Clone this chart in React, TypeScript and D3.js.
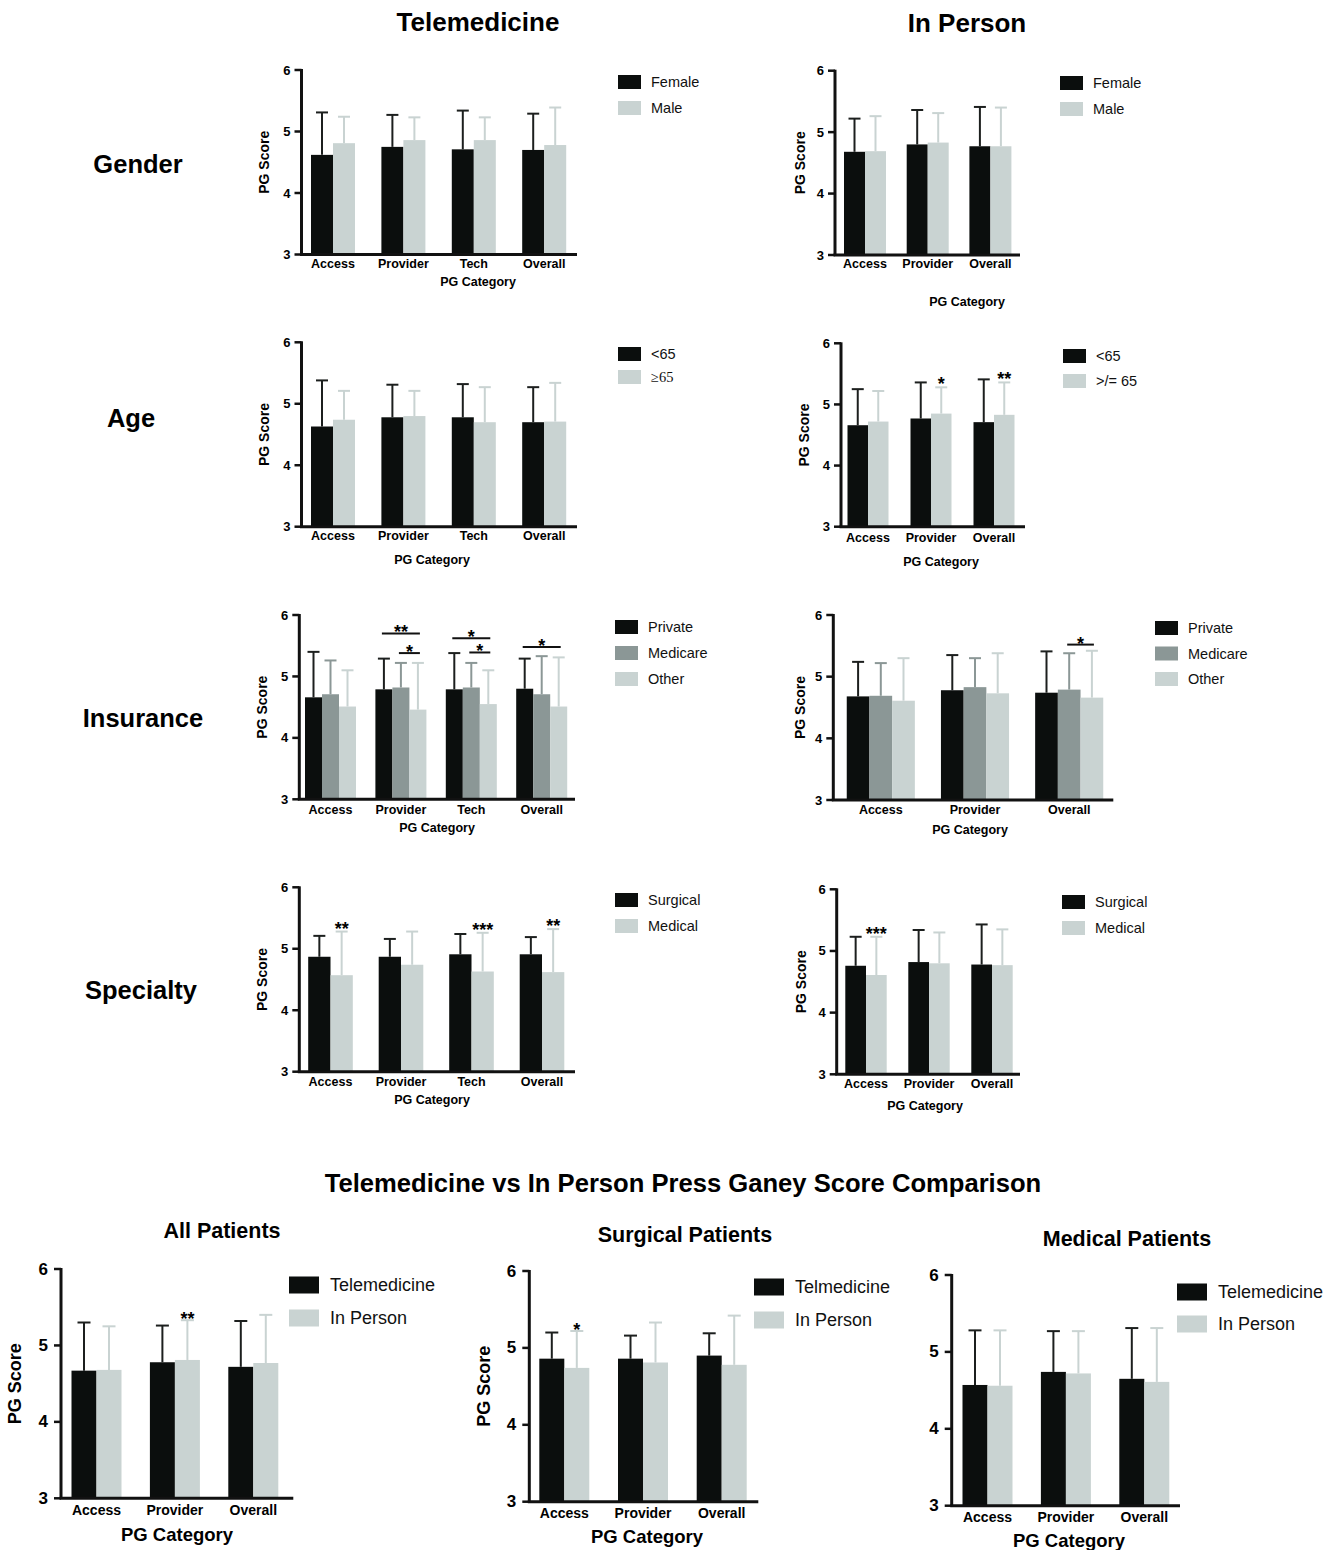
import React from 'react';
import * as d3 from 'd3';

const FONT = 'Arial, "Liberation Sans", Helvetica, sans-serif';
const BLACK = '#0b0e0d';
const MID = '#8b9796';
const LIGHT = '#c9d3d2';

// categories
const cats4 = ['Access', 'Provider', 'Tech', 'Overall'];
const cats3 = ['Access', 'Provider', 'Overall'];

// gender
const genderSeries = ['Female', 'Male'];
const teleGenderMean = [[4.62, 4.75, 4.71, 4.70], [4.81, 4.86, 4.86, 4.78]];
const teleGenderUpper = [[5.31, 5.27, 5.34, 5.29], [5.24, 5.23, 5.23, 5.39]];
const ipGenderMean = [[4.68, 4.80, 4.77], [4.69, 4.83, 4.77]];
const ipGenderUpper = [[5.22, 5.36, 5.41], [5.26, 5.31, 5.40]];

// age
const teleAgeSeries = ['<65', '≥65'];
const ipAgeSeries = ['<65', '>/= 65'];
const teleAgeMean = [[4.63, 4.78, 4.78, 4.70], [4.74, 4.80, 4.70, 4.71]];
const teleAgeUpper = [[5.38, 5.31, 5.32, 5.27], [5.21, 5.21, 5.27, 5.34]];
const ipAgeMean = [[4.66, 4.77, 4.71], [4.72, 4.85, 4.83]];
const ipAgeUpper = [[5.25, 5.36, 5.41], [5.22, 5.28, 5.36]];
const ipAgeStars = [{ cat: 1, s: 1, label: '*' }, { cat: 2, s: 1, label: '**' }];

// insurance
const insSeries = ['Private', 'Medicare', 'Other'];
const teleInsMean = [[4.66, 4.79, 4.79, 4.80], [4.71, 4.82, 4.82, 4.71], [4.51, 4.46, 4.55, 4.51]];
const teleInsUpper = [[5.40, 5.29, 5.38, 5.29], [5.26, 5.22, 5.22, 5.33], [5.10, 5.22, 5.10, 5.31]];
const teleInsBrackets = [
  { cat: 1, from: 0, to: 2, level: 5.70, label: '**' },
  { cat: 1, from: 1, to: 2, level: 5.38, label: '*' },
  { cat: 2, from: 0, to: 2, level: 5.62, label: '*' },
  { cat: 2, from: 1, to: 2, level: 5.39, label: '*' },
  { cat: 3, from: 0, to: 2, level: 5.48, label: '*' },
];
const ipInsMean = [[4.68, 4.78, 4.74], [4.69, 4.83, 4.79], [4.61, 4.73, 4.66]];
const ipInsUpper = [[5.24, 5.35, 5.41], [5.22, 5.30, 5.38], [5.30, 5.38, 5.42]];
const ipInsBrackets = [{ cat: 2, from: 1, to: 2, level: 5.52, label: '*' }];

// specialty
const specSeries = ['Surgical', 'Medical'];
const teleSpecMean = [[4.87, 4.87, 4.91, 4.91], [4.57, 4.74, 4.63, 4.62]];
const teleSpecUpper = [[5.21, 5.16, 5.24, 5.19], [5.28, 5.28, 5.26, 5.32]];
const teleSpecStars = [{ cat: 0, s: 1, label: '**' }, { cat: 2, s: 1, label: '***' }, { cat: 3, s: 1, label: '**' }];
const ipSpecMean = [[4.76, 4.82, 4.78], [4.61, 4.80, 4.77]];
const ipSpecUpper = [[5.23, 5.34, 5.43], [5.23, 5.30, 5.35]];
const ipSpecStars = [{ cat: 0, s: 1, label: '***' }];

// telemedicine vs in person
const allSeries = ['Telemedicine', 'In Person'];
const surgSeries = ['Telmedicine', 'In Person'];
const allMean = [[4.67, 4.78, 4.72], [4.68, 4.81, 4.77]];
const allUpper = [[5.30, 5.26, 5.32], [5.25, 5.33, 5.40]];
const allStars = [{ cat: 1, s: 1, label: '**' }];
const surgMean = [[4.86, 4.86, 4.90], [4.74, 4.81, 4.78]];
const surgUpper = [[5.20, 5.16, 5.19], [5.22, 5.33, 5.42]];
const surgStars = [{ cat: 0, s: 1, label: '*' }];
const medMean = [[4.57, 4.74, 4.65], [4.56, 4.72, 4.61]];
const medUpper = [[5.28, 5.27, 5.31], [5.28, 5.27, 5.31]];

const yTicks = [3, 4, 5, 6];

const small = { tickFs: 13, tickGap: 11, catFs: 12.5, xTitleFs: 12.5, yLabFs: 14, legFs: 14.5, sw: 23, sh: 14, legDx: 33, starFs: 18, starDy: 3, capW: 12 };
const big = { tickFs: 17, tickGap: 13, catFs: 14, xTitleFs: 18.5, yLabFs: 18, legFs: 18, sw: 30, sh: 17, legDx: 41, starFs: 18, starDy: 5, capW: 13 };

function Panel({ cats, series, mean, upper, lay, sty, yLabX, catY, xTitle, legend, stars = [], brackets = [], title, legendFonts = [] }) {
  const colors = series.length === 3 ? [BLACK, MID, LIGHT] : [BLACK, LIGHT];
  const n = cats.length;
  const p = 1 - (series.length * lay.barW) / lay.step;
  const start = lay.c0 - lay.step / 2;
  const x0 = d3.scaleBand().domain(cats).range([start, start + n * lay.step]).paddingInner(p).paddingOuter(p / 2);
  const x1 = d3.scaleBand().domain(series).range([0, x0.bandwidth()]);
  const y = d3.scaleLinear().domain([3, 6]).range([lay.yBot, lay.yTop]);
  const cx = (ci, si) => x0(cats[ci]) + x1(series[si]) + x1.bandwidth() / 2;
  const midY = (lay.yTop + lay.yBot) / 2;

  return (
    <g fontFamily={FONT}>
      {title && (
        <text x={title.x} y={title.y} textAnchor="middle" dominantBaseline="central" fontWeight="bold" fontSize={21.5}>{title.text}</text>
      )}
      {series.map((s, si) =>
        cats.map((c, ci) => {
          const xb = x0(c) + x1(s);
          const ym = y(mean[si][ci]);
          const yu = y(upper[si][ci]);
          const xc = xb + x1.bandwidth() / 2;
          const ec = si === 0 ? '#1c1f1e' : colors[si];
          return (
            <g key={s + c}>
              <line x1={xc} x2={xc} y1={ym} y2={yu} stroke={ec} strokeWidth={2} />
              <line x1={xc - sty.capW / 2} x2={xc + sty.capW / 2} y1={yu} y2={yu} stroke={ec} strokeWidth={2} />
              <rect x={xb} y={ym} width={x1.bandwidth()} height={lay.yBot - ym} fill={colors[si]} />
            </g>
          );
        })
      )}
      {/* axes */}
      <line x1={lay.ax} x2={lay.ax} y1={lay.yTop - 1} y2={lay.yBot} stroke="#111" strokeWidth={3} />
      <line x1={lay.ax - 1.5} x2={lay.axR} y1={lay.yBot} y2={lay.yBot} stroke="#111" strokeWidth={3} />
      {yTicks.map((t) => (
        <g key={t}>
          <line x1={lay.ax - 7} x2={lay.ax} y1={y(t)} y2={y(t)} stroke="#111" strokeWidth={2.5} />
          <text x={lay.ax - sty.tickGap} y={y(t)} textAnchor="end" dominantBaseline="central" fontWeight="bold" fontSize={sty.tickFs}>{t}</text>
        </g>
      ))}
      {cats.map((c) => (
        <text key={c} x={x0(c) + x0.bandwidth() / 2} y={catY} textAnchor="middle" dominantBaseline="central" fontWeight="bold" fontSize={sty.catFs}>{c}</text>
      ))}
      <text x={xTitle.x} y={xTitle.y} textAnchor="middle" dominantBaseline="central" fontWeight="bold" fontSize={sty.xTitleFs}>PG Category</text>
      {yLabX != null && (
        <text transform={`translate(${yLabX},${midY}) rotate(-90)`} textAnchor="middle" dominantBaseline="central" fontWeight="bold" fontSize={sty.yLabFs}>PG Score</text>
      )}
      {/* legend */}
      {series.map((s, si) => {
        const ly = legend.y0 + si * legend.dy;
        return (
          <g key={s}>
            <rect x={legend.x} y={ly - sty.sh / 2} width={sty.sw} height={sty.sh} fill={colors[si]} />
            <text x={legend.x + sty.legDx} y={ly} dominantBaseline="central" fontSize={sty.legFs} fontFamily={legendFonts[si] || FONT} fill="#111">{s}</text>
          </g>
        );
      })}
      {stars.map((st, i) => (
        <text key={'s' + i} x={cx(st.cat, st.s)} y={y(upper[st.s][st.cat]) + sty.starDy} textAnchor="middle" fontWeight="bold" fontSize={sty.starFs}>{st.label}</text>
      ))}
      {brackets.map((b, i) => {
        const xa = cx(b.cat, b.from) - 2;
        const xb = cx(b.cat, b.to) + 2;
        const yl = y(b.level);
        return (
          <g key={'b' + i}>
            <line x1={xa} x2={xb} y1={yl} y2={yl} stroke="#111" strokeWidth={2} />
            <text x={(xa + xb) / 2} y={yl + 5} textAnchor="middle" fontWeight="bold" fontSize={18}>{b.label}</text>
          </g>
        );
      })}
    </g>
  );
}

export default function App() {
  return (
    <svg width={1339} height={1550} style={{ position: 'absolute', left: 0, top: 0, background: '#fff' }} fontFamily={FONT}>
      <rect width={1339} height={1550} fill="#fff" />
      <text x={478} y={22} textAnchor="middle" dominantBaseline="central" fontWeight="bold" fontSize={26}>Telemedicine</text>
      <text x={967} y={23} textAnchor="middle" dominantBaseline="central" fontWeight="bold" fontSize={26}>In Person</text>
      <text x={138} y={164} textAnchor="middle" dominantBaseline="central" fontWeight="bold" fontSize={25.5}>Gender</text>
      <text x={131} y={418} textAnchor="middle" dominantBaseline="central" fontWeight="bold" fontSize={25.5}>Age</text>
      <text x={143} y={718} textAnchor="middle" dominantBaseline="central" fontWeight="bold" fontSize={25.5}>Insurance</text>
      <text x={141} y={990} textAnchor="middle" dominantBaseline="central" fontWeight="bold" fontSize={25.5}>Specialty</text>
      <text x={683} y={1183} textAnchor="middle" dominantBaseline="central" fontWeight="bold" fontSize={25.6}>Telemedicine vs In Person Press Ganey Score Comparison</text>

      <Panel cats={cats4} series={genderSeries} mean={teleGenderMean} upper={teleGenderUpper} sty={small}
        lay={{ ax: 301.5, axR: 577, yTop: 70, yBot: 254.5, c0: 333, step: 70.4, barW: 22 }}
        yLabX={264} catY={264} xTitle={{ x: 478, y: 282 }} legend={{ x: 618, y0: 82, dy: 26 }} />
      <Panel cats={cats3} series={genderSeries} mean={ipGenderMean} upper={ipGenderUpper} sty={small}
        lay={{ ax: 835, axR: 1020, yTop: 70.7, yBot: 255, c0: 865, step: 62.7, barW: 21 }}
        yLabX={800} catY={264} xTitle={{ x: 967, y: 302 }} legend={{ x: 1060, y0: 83, dy: 26 }} />

      <Panel cats={cats4} series={teleAgeSeries} mean={teleAgeMean} upper={teleAgeUpper} sty={small}
        lay={{ ax: 301.5, axR: 577, yTop: 342.3, yBot: 526.7, c0: 333, step: 70.4, barW: 22 }}
        yLabX={264} catY={536} xTitle={{ x: 432, y: 560 }} legend={{ x: 618, y0: 354, dy: 23 }}
        legendFonts={[FONT, '"Liberation Serif", "Times New Roman", serif']} />
      <Panel cats={cats3} series={ipAgeSeries} mean={ipAgeMean} upper={ipAgeUpper} sty={small}
        lay={{ ax: 841, axR: 1025, yTop: 343.3, yBot: 526.7, c0: 868, step: 63, barW: 20.5 }}
        yLabX={804} catY={538} xTitle={{ x: 941, y: 562 }} legend={{ x: 1063, y0: 356, dy: 25 }} stars={ipAgeStars} />

      <Panel cats={cats4} series={insSeries} mean={teleInsMean} upper={teleInsUpper} sty={small}
        lay={{ ax: 299.3, axR: 575, yTop: 615, yBot: 799.3, c0: 330.5, step: 70.4, barW: 17 }}
        yLabX={262} catY={810} xTitle={{ x: 437, y: 828 }} legend={{ x: 615, y0: 627, dy: 26 }} brackets={teleInsBrackets} />
      <Panel cats={cats3} series={insSeries} mean={ipInsMean} upper={ipInsUpper} sty={small}
        lay={{ ax: 833.3, axR: 1113.3, yTop: 615, yBot: 800, c0: 880.8, step: 94.2, barW: 22.7 }}
        yLabX={800} catY={810} xTitle={{ x: 970, y: 830 }} legend={{ x: 1155, y0: 628, dy: 25.5 }} brackets={ipInsBrackets} />

      <Panel cats={cats4} series={specSeries} mean={teleSpecMean} upper={teleSpecUpper} sty={small}
        lay={{ ax: 299.3, axR: 575, yTop: 887.3, yBot: 1071.7, c0: 330.5, step: 70.5, barW: 22.3 }}
        yLabX={262} catY={1082} xTitle={{ x: 432, y: 1100 }} legend={{ x: 615, y0: 900, dy: 26 }} stars={teleSpecStars} />
      <Panel cats={cats3} series={specSeries} mean={ipSpecMean} upper={ipSpecUpper} sty={small}
        lay={{ ax: 836.7, axR: 1020, yTop: 889.3, yBot: 1074.3, c0: 866, step: 63, barW: 20.7 }}
        yLabX={801} catY={1084} xTitle={{ x: 925, y: 1106 }} legend={{ x: 1062, y0: 902, dy: 26 }} stars={ipSpecStars} />

      <Panel cats={cats3} series={allSeries} mean={allMean} upper={allUpper} sty={big}
        lay={{ ax: 61, axR: 293.3, yTop: 1269, yBot: 1498.3, c0: 96.5, step: 78.4, barW: 25 }}
        yLabX={15} catY={1510} xTitle={{ x: 177, y: 1534 }} legend={{ x: 289, y0: 1285, dy: 33 }} stars={allStars}
        title={{ x: 222, y: 1231, text: 'All Patients' }} />
      <Panel cats={cats3} series={surgSeries} mean={surgMean} upper={surgUpper} sty={big}
        lay={{ ax: 529.3, axR: 758.3, yTop: 1271, yBot: 1501.7, c0: 564.3, step: 78.7, barW: 25 }}
        yLabX={484} catY={1513} xTitle={{ x: 647, y: 1536 }} legend={{ x: 754, y0: 1287, dy: 33 }} stars={surgStars}
        title={{ x: 685, y: 1235, text: 'Surgical Patients' }} />
      <Panel cats={cats3} series={allSeries} mean={medMean} upper={medUpper} sty={big}
        lay={{ ax: 951.7, axR: 1180, yTop: 1275, yBot: 1505.7, c0: 987.5, step: 78.4, barW: 25 }}
        yLabX={null} catY={1517} xTitle={{ x: 1069, y: 1540 }} legend={{ x: 1177, y0: 1292, dy: 32 }}
        title={{ x: 1127, y: 1239, text: 'Medical Patients' }} />
    </svg>
  );
}
